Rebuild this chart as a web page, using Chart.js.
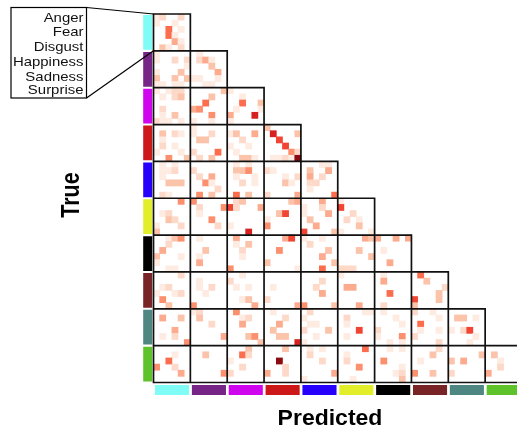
<!DOCTYPE html>
<html><head><meta charset="utf-8">
<script src="https://cdn.jsdelivr.net/npm/chart.js@4/dist/chart.umd.min.js"></script>
<style>
html,body{margin:0;padding:0;background:#fff;}
#wrap{position:relative;width:517px;height:427px;overflow:hidden;background:#fff;}
#c{position:absolute;left:0;top:0;}
#ov{position:absolute;left:0;top:0;}
</style></head><body>
<div id="wrap"><canvas id="c" width="517" height="427"></canvas>
<svg id="ov" width="517" height="427" xmlns="http://www.w3.org/2000/svg"></svg></div>
<script>
// ---- data ----
const emotions = ["Anger", "Fear", "Disgust", "Happiness", "Sadness", "Surprise"];
const groupNames = ["G1", "G2", "G3", "G4", "G5", "G6", "G7", "G8", "G9", "G10"];
const groupColors = ["#7ffcf6", "#762485", "#cf05ee", "#cc1818", "#2600fa", "#e2ee2a", "#000000", "#782325", "#4e8682", "#5ec22a"];
const axisTitleX = "Predicted";
const axisTitleY = "True";
// each block: 6 rows of 6 intensity levels (0 = none .. 9 = darkest)
const row1 = ["120020 100100 006010 006100 000410 031020"];
const row2 = ["100000 100202 000001 100030 300303 110110",
              "010000 024100 000300 000040 110010 001100"];
const row3 = ["101220 010230 000000 020000 010300 211010",
              "000003 000300 006000 450000 000500 100100",
              "100000 001000 006003 010001 400080 100000"];
const row4 = ["000000 030210 010000 020100 100010 005003",
              "100000 100200 033000 000000 200060 020300",
              "000000 130040 002000 100100 010000 003310",
              "300000 080003 007000 000700 000052 011219"];
const row5 = ["010100 011200 010000 003330 000000 021000",
              "000000 200000 020400 005100 000020 050300",
              "010100 033500 010010 002010 000000 060300",
              "000000 210000 000102 000310 000000 200004",
              "000110 030040 040200 022000 010000 000006"];
const row6 = ["000050 000000 012000 003200 100020 300000",
              "500000 020005 010000 000500 000020 000000",
              "023000 720004 000000 000000 100000 000800",
              "000034 000000 003700 100000 500000 000000",
              "000400 100200 100040 030000 004000 700003",
              "100000 700000 002000 020100 000300 100001"];
const row7 = ["001350 002000 040000 300010 100000 001100",
              "010000 000000 003000 010000 040000 000000",
              "040000 010300 002000 001000 000000 500000",
              "000470 000000 005000 000000 300000 000001",
              "100100 020000 000030 000400 000003 000600",
              "000043 000000 000300 000003 000000 222000",
              "400404 000000 010000 000000 004000 000000"];
const row8 = ["000020 000000 012000 100120 050000 003000",
              "000000 010000 010200 001000 000000 500000",
              "001000 200000 010100 000000 001300 000040",
              "000000 000000 010000 000000 200000 000004",
              "000000 000200 002000 000400 000000 500003",
              "100000 000000 044000 000000 000000 000400",
              "010000 040000 000000 006000 000000 020000",
              "060000 003000 000002 000030 700030 300000"];
const row9 = ["000000 040030 000000 000400 010200 000005",
              "120000 030000 000200 000000 000004 000000",
              "050000 001200 004000 000000 000350 000003",
              "010000 000200 004000 030000 003300 000008",
              "020000 100000 011000 200030 001000 100000",
              "000011 020000 010000 000700 010000 000000",
              "010000 000100 000010 200000 100050 001010",
              "200100 000010 060000 010010 200000 000020",
              "000000 033010 000000 102700 000010 000100"];
const row10 = ["000000 000100 006000 500200 000040 000000",
               "000000 003000 000000 000000 000005 000000",
               "000300 006200 100000 002000 200000 000000",
               "000300 000000 009000 000200 400200 000000",
               "010100 020000 000200 000000 000004 100000",
               "000060 010000 020000 000500 000000 001000",
               "001010 000000 050000 000010 000120 000030",
               "000020 000300 010000 000000 500300 000000",
               "000000 000003 304000 000000 200000 000000",
               "000000 030000 001000 002000 400000 000000"];
const rows = [row1, row2, row3, row4, row5, row6, row7, row8, row9, row10];

// ---- style / layout ----
const heatColors = ["rgba(255,255,255,0)", "#feebe2", "#fdd9c9", "#fcc3ab", "#fcab8e",
                    "#fc8f6e", "#fb6d4d", "#f14432", "#d52221", "#8c0a10"];
const N = 6;                 // cells per block side
const U = 36.85 / N;         // px per cell
const X0 = 153.5, Y0 = 14;   // pixel of grid origin
const W = 517, H = 427, padL = 141, padT = 8, padB = 29;
const xMin = (padL - X0) / U, xMax = (W - X0) / U;
const yMin = (padT - Y0) / U, yMax = (H - padB - Y0) / U;
const bottomBarY = (390 - Y0) / U, leftBarX = (147.7 - X0) / U;

// ---- build datasets ----
const cells = [];
const frame = [];
rows.forEach((blocks, r) => blocks.forEach((s, c) => {
  s.split(' ').forEach((line, i) => [...line].forEach((d, j) => {
    cells.push({x: c * N + j + 0.5, y: [r * N + i, r * N + i + 1], v: +d});
  }));
  const x0 = c * N, y0 = r * N, x1 = x0 + N, y1 = y0 + N;
  frame.push({x: x0 + N / 2, y: y0}, {x: x1, y: y0}, {x: x1, y: y1}, {x: x0, y: y1},
             {x: x0, y: y0}, {x: x0 + N / 2 + 0.01, y: y0}, {x: null, y: null});
}));

const datasets = [];
datasets.push({type: 'line', label: 'frames', data: frame, borderColor: '#111', borderWidth: 1.7,
  pointRadius: 0, tension: 0, spanGaps: false, borderJoinStyle: 'miter', order: 0});
groupColors.forEach((col, b) => {
  datasets.push({type: 'line', label: groupNames[b] + ' (predicted)',
    data: [{x: b * N + 0.25, y: bottomBarY}, {x: b * N + 5.8, y: bottomBarY}],
    borderColor: col, borderWidth: 10, pointRadius: 0, borderCapStyle: 'butt', order: 1});
  datasets.push({type: 'line', label: groupNames[b] + ' (true)',
    data: [{x: leftBarX, y: b * N + 0.17}, {x: leftBarX, y: b * N + 5.83}],
    borderColor: col, borderWidth: 9, pointRadius: 0, borderCapStyle: 'butt', order: 1});
});
datasets.push({type: 'bar', label: 'cells', data: cells, grouped: false,
  categoryPercentage: 1, barPercentage: 1, borderWidth: 0,
  backgroundColor: ctx => heatColors[ctx.raw ? ctx.raw.v : 0], order: 2});

new Chart(document.getElementById('c'), {
  type: 'bar',
  data: {datasets},
  options: {
    responsive: false, animation: false, events: [],
    layout: {padding: {left: padL, top: padT, right: 0, bottom: padB}},
    plugins: {legend: {display: false}, tooltip: {enabled: false}},
    scales: {
      x: {type: 'linear', min: xMin, max: xMax, display: false, offset: false, ticks: {stepSize: 10}},
      y: {type: 'linear', min: yMin, max: yMax, reverse: true, display: false, beginAtZero: false}
    }
  }
});

// ---- overlay: zoom box with emotion labels, axis titles ----
const NS = 'http://www.w3.org/2000/svg';
const svg = document.getElementById('ov');
function el(tag, attrs, text) {
  const e = document.createElementNS(NS, tag);
  for (const k in attrs) e.setAttribute(k, attrs[k]);
  if (text !== undefined) e.textContent = text;
  return e;
}
svg.appendChild(el('rect', {x: 11, y: 7.5, width: 75.5, height: 90.5, fill: 'none', stroke: '#000', 'stroke-width': 1.2}));
svg.appendChild(el('line', {x1: 86.5, y1: 7.5, x2: X0, y2: Y0, stroke: '#000', 'stroke-width': 1.2}));
svg.appendChild(el('line', {x1: 86.5, y1: 98, x2: X0, y2: Y0 + N * U, stroke: '#000', 'stroke-width': 1.2}));
const baselines = [21.7, 36.5, 51, 66, 81, 94.5];
const g = el('g', {transform: 'translate(83.5,0) scale(1.15,1)'});
emotions.forEach((t, i) => g.appendChild(el('text', {x: 0, y: baselines[i], 'text-anchor': 'end',
  'font-family': 'Liberation Sans, Arial, sans-serif', 'font-size': 13, fill: '#111'}, t)));
svg.appendChild(g);
const gy = el('g', {transform: 'translate(79,195) scale(1.17,1) rotate(-90)'});
gy.appendChild(el('text', {x: 0, y: 0, 'text-anchor': 'middle', 'font-family': 'Liberation Sans, Arial, sans-serif',
  'font-size': 21.5, 'font-weight': 'bold', fill: '#000'}, axisTitleY));
svg.appendChild(gy);
const gx = el('g', {transform: 'translate(330,425) scale(1.07,1)'});
gx.appendChild(el('text', {x: 0, y: 0, 'text-anchor': 'middle', 'font-family': 'Liberation Sans, Arial, sans-serif',
  'font-size': 21.5, 'font-weight': 'bold', fill: '#000'}, axisTitleX));
svg.appendChild(gx);
</script>
</body></html>
